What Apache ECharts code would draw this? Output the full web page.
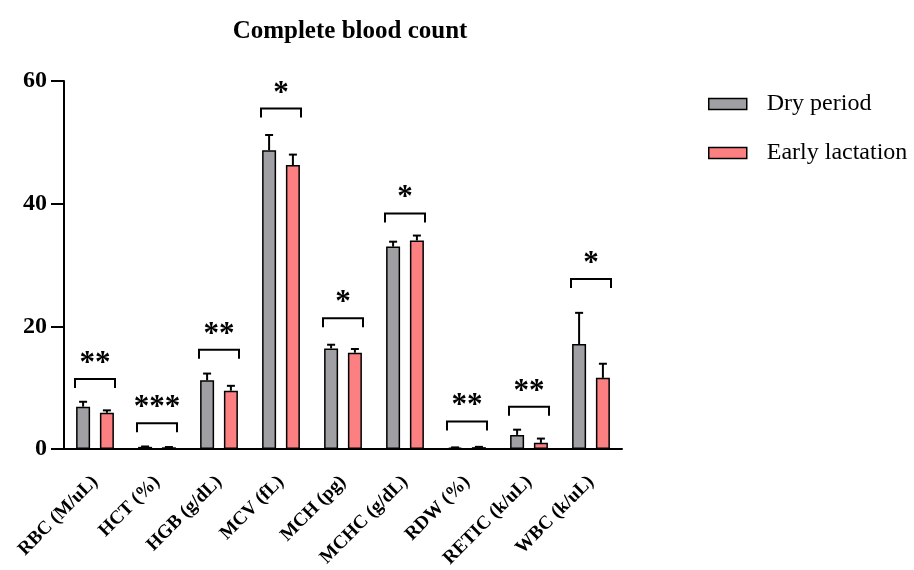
<!DOCTYPE html>
<html>
<head>
<meta charset="utf-8">
<script src="https://cdn.jsdelivr.net/npm/echarts@6/dist/echarts.min.js"></script>
<style>
  html, body { margin: 0; padding: 0; background: #fff; }
  #chart { width: 914px; height: 570px; }
</style>
</head>
<body>
<div id="chart"></div>
<script>
const categories = ['RBC (M/uL)', 'HCT (%)', 'HGB (g/dL)', 'MCV (fL)', 'MCH (pg)', 'MCHC (g/dL)', 'RDW (%)', 'RETIC (k/uL)', 'WBC (k/uL)']
const dryMean = [6.9, 0.35, 11.2, 48.7, 16.4, 33.0, 0.22, 2.3, 17.1]
const dryErr = [0.8, 0.06, 1.1, 2.5, 0.6, 0.8, 0.04, 0.85, 5.1]
const earlyMean = [5.9, 0.28, 9.5, 46.3, 15.7, 34.0, 0.3, 1.0, 11.6]
const earlyErr = [0.4, 0.04, 0.8, 1.7, 0.6, 0.8, 0.05, 0.7, 2.3]
const stars = ['**', '***', '**', '*', '*', '*', '**', '**', '*']
const bracketLevel = [11.4, 4.2, 16.2, 55.5, 21.3, 38.4, 4.5, 6.9, 27.7]
const yTicks = [0, 20, 40, 60]

const serif = '"Liberation Serif", "Times New Roman", serif'
const barW = 14
const barOffset = 11.9 // px from category centre to each bar centre

function errorBars(offset) {
  return function (params, api) {
    const idx = api.value(0)
    const base = api.coord([idx, api.value(1)])
    const hi = api.coord([idx, api.value(2)])
    const x = base[0] + offset
    const st = { stroke: '#000', lineWidth: 2 }
    return {
      type: 'group',
      children: [
        { type: 'line', shape: { x1: x, y1: base[1], x2: x, y2: hi[1] }, style: st },
        { type: 'line', shape: { x1: x - 4, y1: hi[1], x2: x + 4, y2: hi[1] }, style: st }
      ]
    }
  }
}

function brackets(params, api) {
  const idx = api.value(0)
  const p = api.coord([idx, api.value(1)])
  const x1 = p[0] - 20, x2 = p[0] + 20, y = p[1]
  return {
    type: 'group',
    children: [
      { type: 'polyline', shape: { points: [[x1, y + 9], [x1, y], [x2, y], [x2, y + 9]] }, style: { stroke: '#000', lineWidth: 2, fill: null } },
      { type: 'text', style: { text: stars[idx], x: p[0], y: y - 15, align: 'center', verticalAlign: 'middle', fontSize: 31, fontWeight: 'bold', fontFamily: serif, fill: '#000' } }
    ]
  }
}

const chart = echarts.init(document.getElementById('chart'))
chart.setOption({
  animation: false,
  title: {
    text: 'Complete blood count',
    left: 345,
    textAlign: 'center',
    top: 14,
    textStyle: { fontFamily: serif, fontWeight: 'bold', fontSize: 25, color: '#000' }
  },
  legend: {
    orient: 'vertical',
    left: 703,
    top: 87,
    itemWidth: 38,
    itemHeight: 11,
    itemGap: 25,
    icon: 'rect',
    data: ['Dry period', 'Early lactation'],
    itemStyle: { borderColor: '#000', borderWidth: 1.5 },
    textStyle: { fontFamily: serif, fontSize: 24, color: '#000', lineHeight: 22, padding: [0, 0, 0, 15] }
  },
  grid: { left: 64, right: 292, top: 81, bottom: 121, outerBoundsMode: 'none', containLabel: false },
  xAxis: {
    type: 'category',
    data: categories,
    axisLine: { lineStyle: { color: '#000', width: 2 } },
    axisTick: { alignWithLabel: true, length: 14, lineStyle: { color: '#000', width: 2 } },
    axisLabel: { rotate: 45, margin: 30, fontFamily: serif, fontWeight: 'bold', fontSize: 19, color: '#000' }
  },
  yAxis: {
    type: 'value',
    min: yTicks[0],
    max: yTicks[yTicks.length - 1],
    interval: 20,
    splitLine: { show: false },
    axisLine: { show: true, lineStyle: { color: '#000', width: 2 } },
    axisTick: { show: true, length: 13, lineStyle: { color: '#000', width: 2 } },
    axisLabel: { margin: 17, fontFamily: serif, fontWeight: 'bold', fontSize: 24, color: '#000' }
  },
  series: [
    {
      name: 'Dry period',
      type: 'bar',
      data: dryMean,
      barWidth: barW,
      barGap: '70%',
      itemStyle: { color: '#a0a0a4', borderColor: '#000', borderWidth: 1.5 }
    },
    {
      name: 'Early lactation',
      type: 'bar',
      data: earlyMean,
      barWidth: barW,
      itemStyle: { color: '#fc8081', borderColor: '#000', borderWidth: 1.5 }
    },
    {
      type: 'custom',
      renderItem: errorBars(-barOffset),
      data: dryMean.map((v, i) => [i, v, v + dryErr[i]]),
      encode: { x: 0, y: [1, 2] },
      z: 3,
      silent: true
    },
    {
      type: 'custom',
      renderItem: errorBars(barOffset),
      data: earlyMean.map((v, i) => [i, v, v + earlyErr[i]]),
      encode: { x: 0, y: [1, 2] },
      z: 3,
      silent: true
    },
    {
      type: 'custom',
      renderItem: brackets,
      data: bracketLevel.map((v, i) => [i, v]),
      encode: { x: 0, y: 1 },
      clip: false,
      z: 3,
      silent: true
    }
  ]
})
window.addEventListener('resize', function () {
  chart.resize()
})
</script>
</body>
</html>
